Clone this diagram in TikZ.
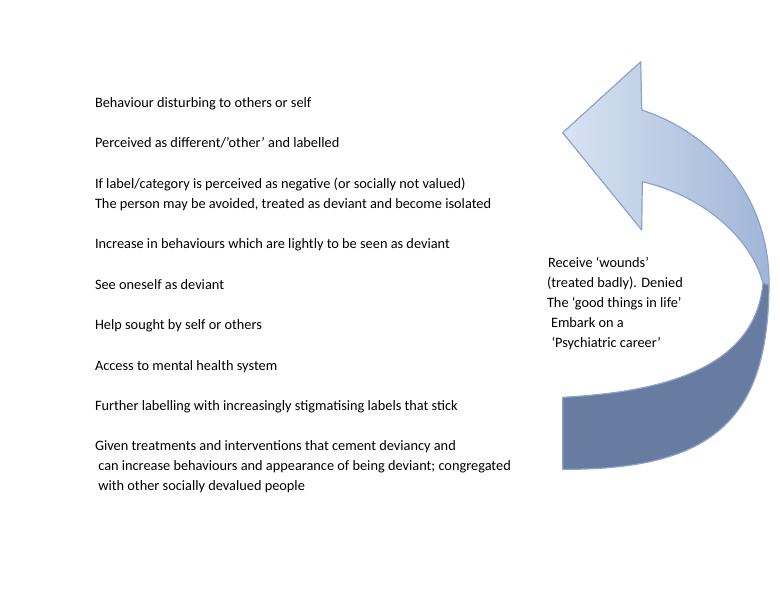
\documentclass[tikz,border=0pt]{standalone}
\usepackage{fontspec}
\setmainfont{Carlito}
\definecolor{headlight}{RGB}{216,227,242}
\definecolor{shaftdark}{RGB}{160,181,216}
\definecolor{backface}{RGB}{103,124,160}
\definecolor{edgeblue}{RGB}{140,163,203}
\tikzset{
  txt/.style={anchor=base west, inner sep=0pt, outer sep=0pt, font=\fontsize{10.75}{15}\selectfont, text=black},
  frontface/.style={left color=headlight, right color=shaftdark, draw=edgeblue, line width=0.9pt, line join=round},
  backpart/.style={fill=backface, draw=edgeblue, line width=0.9pt, line join=round}
}
\begin{document}
\begin{tikzpicture}[x=0.75pt, y=-0.75pt]
\useasboundingbox (0,0) rectangle (780,600);
\fill[white] (0,0) rectangle (780,600);

% curved arrow: front face with head
\path[frontface] (562.7,132.7) -- (640.7,61.7) -- (641.7,110)
  .. controls (710,132) and (770,195) .. (769,285) -- (763,283)
  .. controls (750,235) and (700,195) .. (642.3,181.7)
  -- (641.7,230) -- cycle;
% back face
\path[backpart] (562.7,397.3) .. controls (660,392) and (755,370) .. (763,283)
  -- (769,285) .. controls (768,418) and (715,470) .. (562.7,469.3) -- cycle;

% left column
\node[txt] (l1) at (95,107) {Behaviour disturbing to others or self};
\node[txt] (l2) at (95,147.5) {Perceived as different/’other’ and labelled};
\node[txt] (l3) at (95,188) {If label/category is perceived as negative (or socially not valued)};
\node[txt] (l4) at (95,208) {The person may be avoided, treated as deviant and become isolated};
\node[txt] (l5) at (95,248.5) {Increase in behaviours which are lightly to be seen as deviant};
\node[txt] (l6) at (95,289) {See oneself as deviant};
\node[txt] (l7) at (95,329.5) {Help sought by self or others};
\node[txt] (l8) at (95,370) {Access to mental health system};
\node[txt] (l9) at (95,410) {Further labelling with increasingly stigmatising labels that stick};
\node[txt] (l10) at (95,450.5) {Given treatments and interventions that cement deviancy and};
\node[txt] (l11) at (98.3,470.5) {can increase behaviours and appearance of being deviant; congregated};
\node[txt] (l12) at (98.3,490.5) {with other socially devalued people};

% right column
\node[txt] (r1) at (548,267) {Receive ‘wounds’};
\node[txt] (r2) at (547,287) {(treated badly). Denied};
\node[txt] (r3) at (547,307) {The ‘good things in life’};
\node[txt] (r4) at (551,327) {Embark on a};
\node[txt] (r5) at (551.5,347) {‘Psychiatric career’};
\end{tikzpicture}
\end{document}
